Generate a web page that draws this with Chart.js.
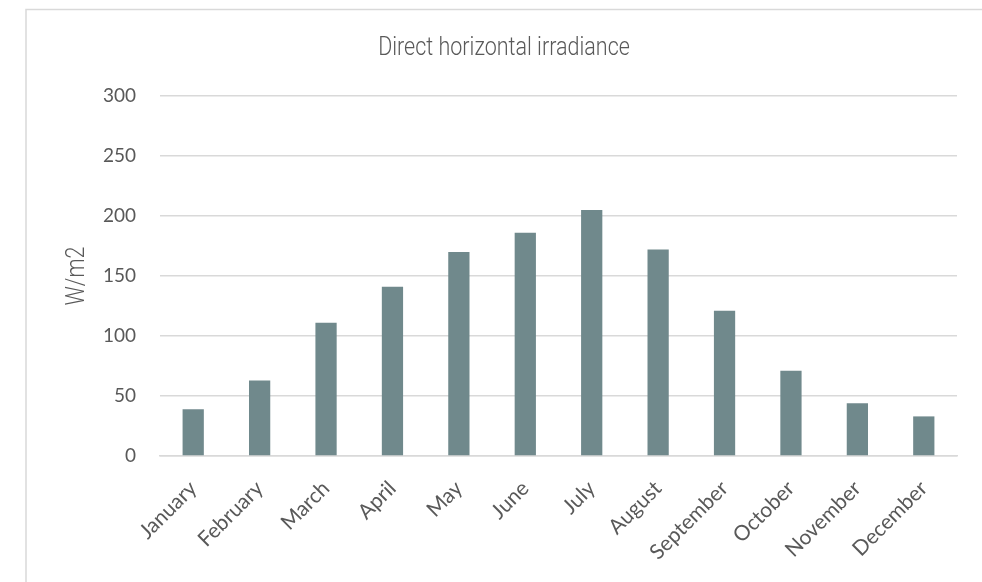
<!DOCTYPE html>
<html>
<head>
<meta charset="utf-8">
<script src="https://cdn.jsdelivr.net/npm/chart.js@4/dist/chart.umd.min.js"></script>
<style>
  html, body { margin: 0; padding: 0; background: #ffffff; }
  #wrap { position: relative; width: 982px; height: 582px; }
</style>
</head>
<body>
<div id="wrap"><canvas id="chart" width="982" height="582"></canvas></div>
<script>
// Monthly direct horizontal irradiance (W/m2)
const months = ['January', 'February', 'March', 'April', 'May', 'June',
                'July', 'August', 'September', 'October', 'November', 'December'];
const irradiance = [39, 63, 111, 141, 170, 186, 205, 172, 121, 71, 44, 33];
const yTicks = [0, 50, 100, 150, 200, 250, 300];
const chartTitle = 'Direct horizontal irradiance';
const yTitle = 'W/m2';

const TEXT = '#595959';
const GRID = '#d9d9d9';
const BAR = '#70898c';
const BODY = '"Lato", "Open Sans", sans-serif';
const NARROW_FONT = '300 25px Roboto, sans-serif';
const NARROW_SCALE = 0.86;

// Light frame along the top and left edges of the chart panel
const framePlugin = {
  id: 'frame',
  beforeDraw(chart) {
    const ctx = chart.ctx;
    ctx.save();
    ctx.strokeStyle = GRID;
    ctx.lineWidth = 1.5;
    ctx.beginPath();
    ctx.moveTo(26, chart.height);
    ctx.lineTo(26, 9.5);
    ctx.lineTo(chart.width, 9.5);
    ctx.stroke();
    ctx.restore();
  }
};

// Chart title and value-axis title in a condensed face, centred on the panel
const titlesPlugin = {
  id: 'narrowTitles',
  afterDraw(chart) {
    const ctx = chart.ctx;
    const area = chart.chartArea;
    ctx.save();
    ctx.fillStyle = TEXT;
    ctx.font = NARROW_FONT;
    ctx.textAlign = 'center';
    ctx.textBaseline = 'alphabetic';
    ctx.translate((26 + chart.width) / 2, 55);
    ctx.scale(NARROW_SCALE, 1);
    ctx.fillText(chartTitle, 0, 0);
    ctx.restore();

    ctx.save();
    ctx.fillStyle = TEXT;
    ctx.font = NARROW_FONT;
    ctx.textAlign = 'center';
    ctx.textBaseline = 'middle';
    ctx.translate(78, (area.top + area.bottom) / 2);
    ctx.rotate(-Math.PI / 2);
    ctx.scale(NARROW_SCALE, 1);
    ctx.fillText(yTitle, 0, 0);
    ctx.restore();
  }
};

new Chart(document.getElementById('chart'), {
  type: 'bar',
  data: {
    labels: months,
    datasets: [{
      label: chartTitle,
      data: irradiance,
      backgroundColor: BAR,
      borderWidth: 0,
      barPercentage: 0.32,
      categoryPercentage: 1.0
    }]
  },
  options: {
    responsive: false,
    animation: false,
    layout: { padding: { left: 0, right: 25, top: 96, bottom: 0 } },
    plugins: {
      legend: { display: false },
      tooltip: { enabled: false },
      title: { display: false }
    },
    scales: {
      x: {
        grid: { display: false, drawTicks: false },
        border: { display: true, color: GRID, width: 1.5 },
        ticks: {
          color: TEXT,
          font: { family: BODY, size: 21 },
          maxRotation: 45,
          minRotation: 45,
          autoSkip: false,
          padding: 20
        },
        afterFit(scale) { scale.height = 126; }
      },
      y: {
        min: 0,
        max: 300,
        afterBuildTicks(scale) { scale.ticks = yTicks.map(v => ({ value: v })); },
        grid: { color: GRID, lineWidth: 1.5, drawTicks: false },
        border: { display: false },
        ticks: {
          color: TEXT,
          font: { family: BODY, size: 19 },
          padding: 24
        },
        afterFit(scale) { scale.width = 160; }
      }
    }
  },
  plugins: [framePlugin, titlesPlugin]
});
</script>
</body>
</html>
